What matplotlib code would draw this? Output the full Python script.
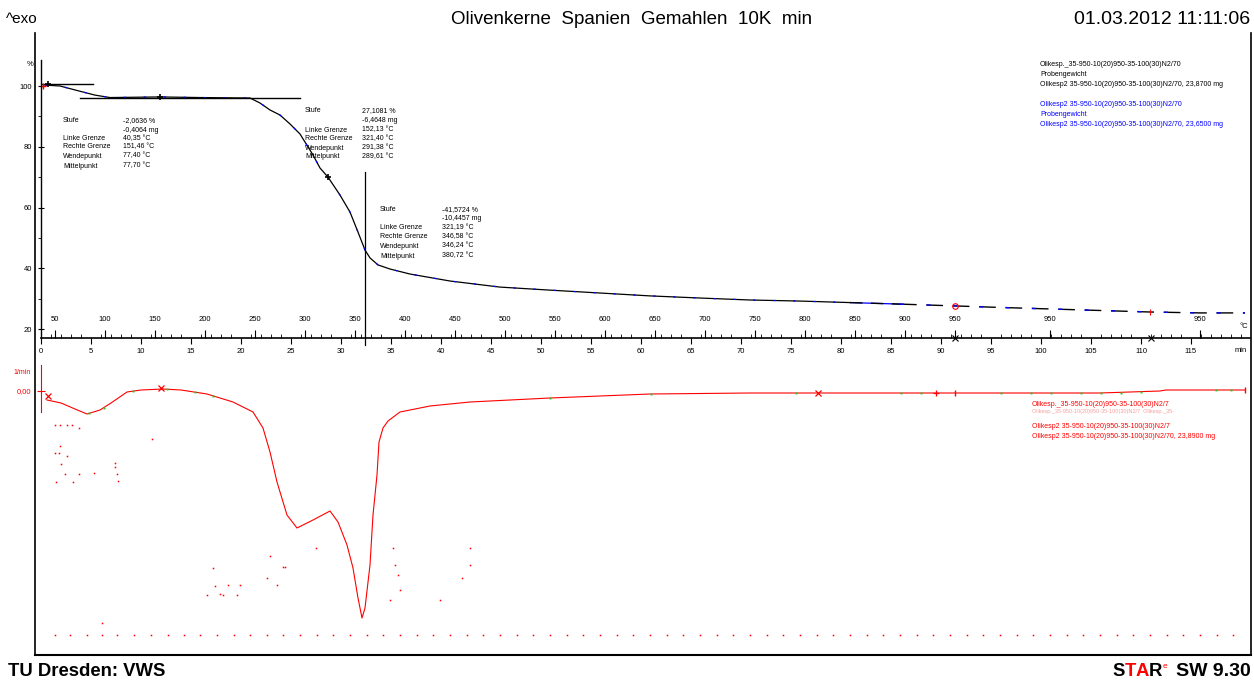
import matplotlib
matplotlib.use('Agg')
from matplotlib import pyplot as plt
from matplotlib.ticker import MultipleLocator

W, H = 1254, 682
NARROW = ['Liberation Sans Narrow', 'Liberation Sans', 'DejaVu Sans']
plt.rcParams['font.family'] = NARROW

# TGA curve: time in min, mass in %
tga_time = [0.4, 1.9, 3.4, 5.4, 6.9, 11.9, 15.9, 18.9, 20.9, 21.9, 22.9, 23.9, 24.9, 25.9,
            27.2, 27.9, 28.7, 29.9, 30.9, 31.7, 32.4, 32.9, 33.7, 34.9, 36.9, 40.9, 45.9,
            50.9, 55.9, 60.9, 65.9, 70.9, 75.9, 80.9, 85.9, 91.4, 95.9, 100.9, 105.9,
            110.9, 115.9, 120.4]
tga_mass = [100.3, 100.0, 98.7, 97.0, 96.2, 96.4, 96.2, 96.1, 96.05, 94.4, 92.1, 90.45, 87.5,
            84.2, 77.3, 73.0, 70.0, 64.1, 58.5, 51.9, 46.0, 43.4, 41.1, 39.75, 38.1, 35.8,
            33.8, 32.8, 31.85, 30.9, 30.2, 29.55, 29.2, 28.7, 28.2, 27.6, 27.1, 26.6, 26.1,
            25.6, 25.3, 25.3]

# DTG curve
dtg_time = [0.6, 2.0, 3.4, 4.6, 5.9, 7.0, 8.6, 10.0, 12.2, 14.0, 16.6, 19.2, 21.2, 22.2, 22.9,
            23.6, 24.6, 25.6, 27.2, 28.9, 29.7, 30.6, 31.2, 31.7, 32.1, 32.4, 32.9, 33.2, 33.6,
            33.8, 34.2, 34.7, 35.9, 38.9, 42.9, 50.9, 60.9, 70.9, 77.9, 90.9, 105.9, 111.9,
            112.5, 120.4]
dtg_value = [-0.09, -0.12, -0.18, -0.23, -0.19, -0.12, -0.01, 0.01, 0.02, 0.01, -0.03, -0.11,
             -0.21, -0.37, -0.61, -0.91, -1.24, -1.37, -1.29, -1.20, -1.31, -1.54, -1.77, -2.07,
             -2.27, -2.17, -1.74, -1.24, -0.84, -0.51, -0.37, -0.30, -0.21, -0.15, -0.11, -0.07,
             -0.03, -0.02, -0.02, -0.02, -0.02, 0.0, 0.01, 0.01]

# green evaluation points on the DTG curve
green_time = [4.8, 6.3, 9.2, 12.6, 15.4, 17.2, 50.9, 61.0, 75.5, 86.0, 88.0, 96.0, 99.0,
              101.0, 104.0, 106.0, 108.0, 110.0, 117.5, 119.0]
green_value = [-0.22, -0.17, 0.0, 0.02, -0.01, -0.05, -0.07, -0.03, -0.02, -0.02, -0.02,
               -0.02, -0.02, -0.02, -0.02, -0.02, -0.02, -0.01, 0.01, 0.01]

# stray DTG points
noise_time = [1.4, 1.9, 2.6, 3.1, 3.8, 1.9, 1.4, 1.8, 2.6, 2.0, 2.4, 3.8, 5.3, 7.4, 7.4, 7.6,
              7.7, 1.5, 3.2, 11.1, 17.2, 17.4, 18.7, 19.9, 16.6, 17.9, 18.2, 19.6, 22.9, 22.6,
              23.6, 24.2, 24.4, 27.5, 6.1, 35.2, 35.4, 35.7, 35.9, 34.9, 42.9, 42.9, 42.1, 39.9]
noise_value = [-0.34, -0.34, -0.34, -0.34, -0.37, -0.55, -0.62, -0.62, -0.65, -0.73, -0.83,
               -0.83, -0.82, -0.72, -0.76, -0.83, -0.90, -0.91, -0.91, -0.48, -1.77, -1.95,
               -1.94, -1.94, -2.04, -2.03, -2.04, -2.04, -1.65, -1.87, -1.94, -1.76, -1.76,
               -1.57, -2.32, -1.57, -1.74, -1.84, -1.99, -2.09, -1.57, -1.74, -1.87, -2.09]
floor_time = [1.4, 2.9, 4.6, 6.1, 7.6, 9.3, 11.0, 12.7, 14.3, 15.9, 17.6, 19.3, 20.9, 22.6,
              24.2, 25.9, 27.6, 29.2, 30.9, 32.6, 34.2, 35.9, 37.6, 39.2, 40.9, 42.6, 44.2,
              45.9, 47.6, 49.2, 50.9, 52.6, 54.2, 55.9, 57.6, 59.2, 60.9, 62.6, 64.2, 65.9,
              67.6, 69.2, 70.9, 72.6, 74.2, 75.9, 77.6, 79.2, 80.9, 82.6, 84.2, 85.9, 87.6,
              89.2, 90.9, 92.6, 94.2, 95.9, 97.6, 99.2, 100.9, 102.6, 104.2, 105.9, 107.6,
              109.2, 110.9, 112.6, 114.2, 115.9, 117.6, 119.2]
floor_value = -2.44

# temperature scale along the time axis
temp_labels = ['50', '100', '150', '200', '250', '300', '350', '400', '450', '500', '550',
               '600', '650', '700', '750', '800', '850', '900', '950', '950', '950']
temp_times = [1.4, 6.4, 11.4, 16.4, 21.4, 26.4, 31.4, 36.4, 41.4, 46.4, 51.4, 56.4, 61.4,
              66.4, 71.4, 76.4, 81.4, 86.4, 91.4, 100.9, 115.9]

# step evaluation (tangents, limits)
tangent_lines = [(0.0, 5.2, 100.6), (3.9, 25.9, 96.1)]
step_line_time = 32.4
step_marks_time = [0.7, 11.9, 28.7]
step_marks_mass = [100.6, 96.3, 70.0]

block1 = [('Stufe', '-2,0636 %'), ('', '-0,4064 mg'), ('Linke Grenze', '40,35 °C'),
          ('Rechte Grenze', '151,46 °C'), ('Wendepunkt', '77,40 °C'), ('Mittelpunkt', '77,70 °C')]
block2 = [('Stufe', '27,1081 %'), ('', '-6,4648 mg'), ('Linke Grenze', '152,13 °C'),
          ('Rechte Grenze', '321,40 °C'), ('Wendepunkt', '291,38 °C'), ('Mittelpunkt', '289,61 °C')]
block3 = [('Stufe', '-41,5724 %'), ('', '-10,4457 mg'), ('Linke Grenze', '321,19 °C'),
          ('Rechte Grenze', '346,58 °C'), ('Wendepunkt', '346,24 °C'), ('Mittelpunkt', '380,72 °C')]

legend_black = ['Olikesp._35-950-10(20)950-35-100(30)N2/70', 'Probengewicht',
                'Olikesp2 35-950-10(20)950-35-100(30)N2/70, 23,8700 mg']
legend_blue = ['Olikesp2 35-950-10(20)950-35-100(30)N2/70', 'Probengewicht',
               'Olikesp2 35-950-10(20)950-35-100(30)N2/70, 23,6500 mg']
legend_red = ['Olikesp._35-950-10(20)950-35-100(30)N2/7',
              'Olikesp2 35-950-10(20)950-35-100(30)N2/7',
              'Olikesp2 35-950-10(20)950-35-100(30)N2/70, 23,8900 mg']


def fx(x):
    return x / W


def fy(y):
    return 1 - y / H


fig = plt.figure(figsize=(W / 100, H / 100), dpi=100)

# ---------------- TGA axes ----------------
ax1 = fig.add_axes([fx(41), fy(338), fx(1250 - 41), (338 - 60) / H])
ax1.set_xlim(0, 120.9)
ax1.set_ylim(17.04, 108.56)
for s in ['top', 'right']:
    ax1.spines[s].set_visible(False)
ax1.spines['left'].set_linewidth(1.0)
ax1.spines['bottom'].set_linewidth(1.2)

# temperature scale sitting on top of the time axis
axT = ax1.twiny()
axT.set_xlim(ax1.get_xlim())
axT.xaxis.set_ticks_position('bottom')
axT.set_xticks(temp_times, temp_labels)
axT.tick_params(axis='x', direction='in', length=6, labelsize=5.5, pad=-16)
for s in axT.spines.values():
    s.set_visible(False)
axT.annotate('°C', xy=(120.3, 17.04), xytext=(0, 8), textcoords='offset points',
             ha='center', va='center', fontsize=5.5, annotation_clip=False)

ax1.set_yticks([20, 40, 60, 80, 100])
ax1.yaxis.set_minor_locator(MultipleLocator(10))
ax1.tick_params(axis='y', which='major', direction='inout', length=5, labelsize=5.5, pad=4)
ax1.tick_params(axis='y', which='minor', direction='out', length=2)
ax1.set_xticks(range(0, 120, 5))
ax1.xaxis.set_minor_locator(MultipleLocator(1))
ax1.tick_params(axis='x', which='major', direction='out', length=4, labelsize=5.5, pad=3)
ax1.tick_params(axis='x', which='minor', direction='in', length=3)
ax1.annotate('min', xy=(120.0, 17.04), xytext=(0, -9), textcoords='offset points',
             ha='center', va='center', fontsize=5.5, annotation_clip=False)

# black and blue measurement curves lying over each other
split = 34
tail = 35
ax1.plot(tga_time[:split], tga_mass[:split], color='black', lw=0.9)
ax1.plot(tga_time[:split], tga_mass[:split], color='blue', lw=0.9, dashes=(2, 14))
ax1.plot(tga_time[split - 1:tail], tga_mass[split - 1:tail], color='blue', lw=0.9)
ax1.plot(tga_time[split - 1:tail], tga_mass[split - 1:tail], color='black', lw=1.0, dashes=(9, 6))
ax1.plot(tga_time[tail - 1:], tga_mass[tail - 1:], color='black', lw=1.0, dashes=(12, 7))
ax1.plot(tga_time[tail - 1:], tga_mass[tail - 1:], color='blue', lw=1.0, dashes=(3, 16))

for t0, t1, m in tangent_lines:
    ax1.plot([t0, t1], [m, m], color='black', lw=1.0)
ax1.plot([step_line_time, step_line_time], [71.7, 14.7], color='black', lw=0.9, clip_on=False)
ax1.plot(step_marks_time, step_marks_mass, '+', color='black', ms=5, mew=1.2)
ax1.plot([0.15], [100.0], '+', color='red', ms=5, mew=1)
ax1.plot([91.4], [27.6], 'o', mfc='none', color='red', ms=4, mew=0.8)
ax1.plot([110.9], [25.6], '|', color='red', ms=5, mew=0.8)
ax1.plot([91.4, 111.0], [17.04, 17.04], 'x', color='black', ms=4, mew=0.8, clip_on=False)

fig.text(fx(30), fy(64), '%', fontsize=5.5, ha='center', va='center')

for block, x_lab, x_val, ys in [(block1, 63, 123, [121, 130, 139, 147, 156, 166]),
                                (block2, 305, 362, [111, 120, 130, 139, 148, 157]),
                                (block3, 380, 442, [210, 219, 228, 237, 246, 256])]:
    for (lab, val), y in zip(block, ys):
        fig.text(fx(x_lab), fy(y), lab, fontsize=5, va='center')
        fig.text(fx(x_val), fy(y), val, fontsize=5, va='center')

for i, s in enumerate(legend_black):
    fig.text(fx(1040), fy(65 + 10 * i), s, fontsize=5, va='center', color='black')
for i, s in enumerate(legend_blue):
    fig.text(fx(1040), fy(104 + 10 * i), s, fontsize=5, va='center', color='blue')

# ---------------- DTG axes ----------------
ax2 = fig.add_axes([fx(41), fy(650), fx(1250 - 41), (650 - 365) / H])
ax2.set_xlim(0, 120.9)
ax2.set_ylim(-2.59, 0.26)
for s in ['top', 'right', 'bottom']:
    ax2.spines[s].set_visible(False)
ax2.spines['left'].set_color('red')
ax2.spines['left'].set_bounds(-0.21, 0.26)
ax2.set_xticks([])
ax2.set_yticks([0.0], ['0,00'])
ax2.tick_params(axis='y', direction='inout', length=6, color='red', labelcolor='red',
                labelsize=5.5, pad=4)

ax2.plot(dtg_time, dtg_value, color='red', lw=0.8)
ax2.plot(green_time, green_value, 's', color='#22cc22', ms=1.4, mew=0)
ax2.plot(noise_time, noise_value, 's', color='red', ms=1.1, mew=0)
ax2.plot(floor_time, [floor_value] * len(floor_time), 's', color='red', ms=1.1, mew=0)
ax2.plot([0.7, 12.0, 77.7], [-0.05, 0.03, -0.02], 'x', color='red', ms=4, mew=0.9)
ax2.plot([89.5], [-0.02], '+', color='red', ms=4, mew=0.9)
ax2.plot([91.4, 120.4], [-0.02, 0.01], '|', color='red', ms=5, mew=1)

fig.text(fx(22), fy(372), '1/min', fontsize=5, color='red', ha='center', va='center')

fig.text(fx(1032), fy(405), legend_red[0], fontsize=5, va='center', color='red')
fig.text(fx(1032), fy(412), legend_red[0] + '  ' + legend_red[0][:12], fontsize=4,
         va='center', color='#f5a0a0')
fig.text(fx(1032), fy(427), legend_red[1], fontsize=5, va='center', color='red')
fig.text(fx(1032), fy(437), legend_red[2], fontsize=5, va='center', color='red')

# ---------------- frame, header, footer ----------------
fig.add_artist(plt.Line2D([fx(35), fx(35)], [fy(33), fy(655)], color='black', lw=1.2))
fig.add_artist(plt.Line2D([fx(35), fx(1251)], [fy(655), fy(655)], color='black', lw=1.5))
fig.add_artist(plt.Line2D([fx(1251), fx(1251)], [fy(655), fy(33)], color='black', lw=1.2))

fig.text(fx(6), fy(19), '^exo', fontsize=11, va='center')
fig.text(fx(632), fy(19), 'Olivenkerne  Spanien  Gemahlen  10K  min', fontsize=13.5,
         ha='center', va='center')
fig.text(fx(1250), fy(19), '01.03.2012 11:11:06', fontsize=14, ha='right', va='center')

bold = ['Liberation Sans', 'DejaVu Sans']
fig.text(fx(8), fy(672), 'TU Dresden: VWS', fontsize=13.3, fontweight='bold', family=bold,
         va='center')
for ch, x, c in [('S', 1112, 'black'), ('T', 1125, 'red'), ('A', 1136, 'red'), ('R', 1149, 'black')]:
    fig.text(fx(x), fy(672), ch, fontsize=13.3, fontweight='bold', family=bold, va='center', color=c)
fig.text(fx(1163), fy(667), 'e', fontsize=6, family=bold, va='center', color='red')
fig.text(fx(1251), fy(672), 'SW 9.30', fontsize=14, fontweight='bold', family=bold,
         ha='right', va='center')

plt.savefig('out.png', dpi=100)
